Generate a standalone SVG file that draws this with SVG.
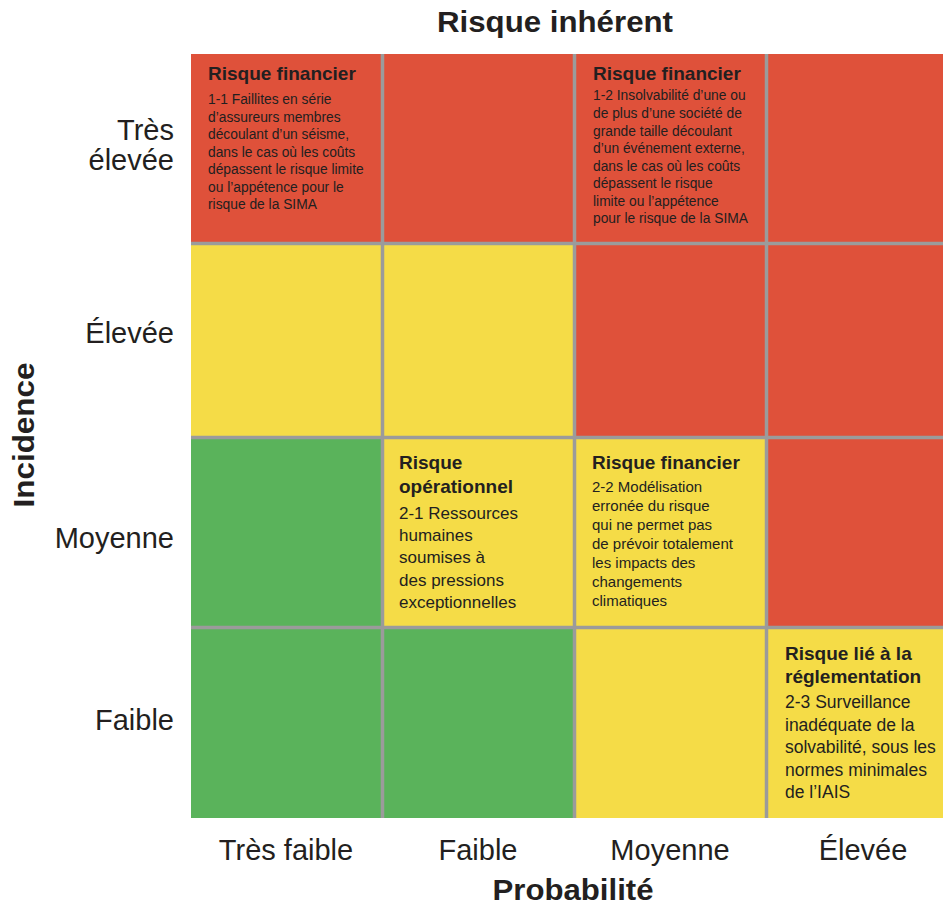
<svg xmlns="http://www.w3.org/2000/svg" width="943" height="907" viewBox="0 0 943 907">
<style>
text{font-family:"Liberation Sans",Arial,sans-serif;fill:#231f20}
.red{fill:#df513a}.yel{fill:#f5dc47}.grn{fill:#5ab35b}
.grid{stroke:#9b9b9b;stroke-width:3.5;fill:none}
.ax{font-size:29px}
.hd{font-size:29px;font-weight:bold}
.t19{font-size:19px;font-weight:bold}
.b14{font-size:13.8px}
.b15{font-size:15px}
.b17{font-size:17px}
.b175{font-size:17.5px}
</style>
<rect width="943" height="907" fill="#ffffff"/>
<g id="titles">
<text class="hd" x="555" y="32" text-anchor="middle" textLength="236" lengthAdjust="spacingAndGlyphs">Risque inhérent</text>
<text class="hd" x="573" y="900" text-anchor="middle" textLength="161" lengthAdjust="spacingAndGlyphs">Probabilité</text>
<text class="hd" transform="translate(34,435) rotate(-90)" x="0" y="0" text-anchor="middle" textLength="145" lengthAdjust="spacingAndGlyphs">Incidence</text>
</g>
<g id="row-labels" text-anchor="end">
<text class="ax" x="174" y="140">Très</text>
<text class="ax" x="174" y="170">élevée</text>
<text class="ax" x="174" y="343">Élevée</text>
<text class="ax" x="174" y="548">Moyenne</text>
<text class="ax" x="174" y="730">Faible</text>
</g>
<g id="col-labels" text-anchor="middle">
<text class="ax" x="286" y="860">Très faible</text>
<text class="ax" x="478" y="860">Faible</text>
<text class="ax" x="670" y="860">Moyenne</text>
<text class="ax" x="863" y="860">Élevée</text>
</g>
<g id="cells">
<rect class="red" x="191" y="54" width="192" height="190"/>
<rect class="red" x="383" y="54" width="192" height="190"/>
<rect class="red" x="575" y="54" width="192" height="190"/>
<rect class="red" x="767" y="54" width="176" height="190"/>
<rect class="yel" x="191" y="244" width="192" height="194"/>
<rect class="yel" x="383" y="244" width="192" height="194"/>
<rect class="red" x="575" y="244" width="192" height="194"/>
<rect class="red" x="767" y="244" width="176" height="194"/>
<rect class="grn" x="191" y="438" width="192" height="190"/>
<rect class="yel" x="383" y="438" width="192" height="190"/>
<rect class="yel" x="575" y="438" width="192" height="190"/>
<rect class="red" x="767" y="438" width="176" height="190"/>
<rect class="grn" x="191" y="628" width="192" height="190"/>
<rect class="grn" x="383" y="628" width="192" height="190"/>
<rect class="yel" x="575" y="628" width="192" height="190"/>
<rect class="yel" x="767" y="628" width="176" height="190"/>
</g>
<g id="gridlines" class="grid">
<line x1="382.5" y1="54" x2="382.5" y2="818"/>
<line x1="574.5" y1="54" x2="574.5" y2="818"/>
<line x1="766.5" y1="54" x2="766.5" y2="818"/>
<line x1="191" y1="243.5" x2="943" y2="243.5"/>
<line x1="191" y1="437.5" x2="943" y2="437.5"/>
<line x1="191" y1="627.5" x2="943" y2="627.5"/>
</g>
<g id="risk-1-1">
<text class="t19" x="208" y="80">Risque financier</text>
<text class="b14" x="208" y="104">1-1 Faillites en série</text>
<text class="b14" x="208" y="122">d’assureurs membres</text>
<text class="b14" x="208" y="139">découlant d’un séisme,</text>
<text class="b14" x="208" y="157">dans le cas où les coûts</text>
<text class="b14" x="208" y="174">dépassent le risque limite</text>
<text class="b14" x="208" y="192">ou l’appétence pour le</text>
<text class="b14" x="208" y="209">risque de la SIMA</text>
</g>
<g id="risk-1-2">
<text class="t19" x="593" y="80">Risque financier</text>
<text class="b14" x="593" y="100">1-2 Insolvabilité d’une ou</text>
<text class="b14" x="593" y="118">de plus d’une société de</text>
<text class="b14" x="593" y="136">grande taille découlant</text>
<text class="b14" x="593" y="153">d’un événement externe,</text>
<text class="b14" x="593" y="171">dans le cas où les coûts</text>
<text class="b14" x="593" y="188">dépassent le risque</text>
<text class="b14" x="593" y="206">limite ou l’appétence</text>
<text class="b14" x="593" y="223">pour le risque de la SIMA</text>
</g>
<g id="risk-2-1">
<text class="t19" x="399" y="469">Risque</text>
<text class="t19" x="399" y="493">opérationnel</text>
<text class="b17" x="399" y="519">2-1 Ressources</text>
<text class="b17" x="399" y="541">humaines</text>
<text class="b17" x="399" y="563">soumises à</text>
<text class="b17" x="399" y="586">des pressions</text>
<text class="b17" x="399" y="608">exceptionnelles</text>
</g>
<g id="risk-2-2">
<text class="t19" x="592" y="469">Risque financier</text>
<text class="b15" x="592" y="492">2-2 Modélisation</text>
<text class="b15" x="592" y="511">erronée du risque</text>
<text class="b15" x="592" y="530">qui ne permet pas</text>
<text class="b15" x="592" y="549">de prévoir totalement</text>
<text class="b15" x="592" y="568">les impacts des</text>
<text class="b15" x="592" y="587">changements</text>
<text class="b15" x="592" y="606">climatiques</text>
</g>
<g id="risk-2-3">
<text class="t19" x="785" y="660">Risque lié à la</text>
<text class="t19" x="785" y="683">réglementation</text>
<text class="b175" x="785" y="708">2-3 Surveillance</text>
<text class="b175" x="785" y="731">inadéquate de la</text>
<text class="b175" x="785" y="753">solvabilité, sous les</text>
<text class="b175" x="785" y="776">normes minimales</text>
<text class="b175" x="785" y="798">de l’IAIS</text>
</g>
</svg>
